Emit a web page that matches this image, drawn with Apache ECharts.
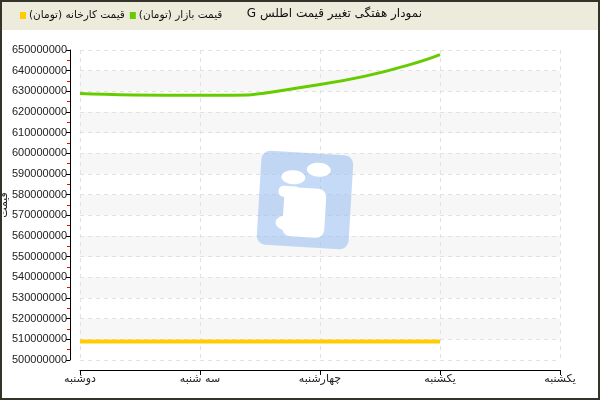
<!DOCTYPE html>
<html>
<head>
<meta charset="utf-8">
<script src="https://cdn.jsdelivr.net/npm/echarts@6/dist/echarts.min.js"></script>
<style>
html,body{margin:0;padding:0;background:#fff;}
#c{width:600px;height:400px;direction:rtl;}
</style>
</head>
<body>
<div id="c"></div>
<script>
const categories = ['دوشنبه', 'سه شنبه', 'چهارشنبه', 'یکشنبه', 'یکشنبه'];
const marketPrice = [629000000, 628100000, 633300000, 647800000];
const factoryPrice = [509000000, 509000000, 509000000, 509000000];
const seriesNames = ['قیمت بازار (تومان)', 'قیمت کارخانه (تومان)'];
const titleText = 'نمودار هفتگی تغییر قیمت اطلس G';
const yName = 'قیمت';

const chart = echarts.init(document.getElementById('c'), null, {renderer: 'canvas'});
const FF = 'DejaVu Sans';
chart.setOption({
  animation: false,
  backgroundColor: '#fff',
  title: {
    text: titleText, right: 178, top: 8, padding: 0,
    textStyle: {fontFamily: FF, fontSize: 12, fontWeight: 'normal', color: '#111'}
  },
  legend: {
    data: [seriesNames[1], seriesNames[0]],
    left: 20, top: 10, padding: 0, itemGap: 5,
    itemWidth: 6, itemHeight: 7, icon: 'rect',
    textStyle: {fontFamily: FF, fontSize: 10.5, color: '#111', padding: [0, 0, 0, -2]}
  },
  graphic: [
    {type: 'rect', z: -10, silent: true, shape: {x: 0, y: 0, width: 600, height: 30}, style: {fill: '#ecebdc'}},
    {type: 'rect', z: 100, silent: true, shape: {x: 1, y: 1, width: 598, height: 398}, style: {fill: 'none', stroke: '#33332a', lineWidth: 2}},
    {
      type: 'group', x: 305, y: 200, rotation: -0.06, z: 50, silent: true,
      children: [
        {type: 'rect', z: 50, shape: {x: -46, y: -47, width: 92, height: 94, r: 9}, style: {fill: 'rgba(150,188,240,0.55)'}},
        {type: 'ellipse', z: 51, shape: {cx: 12, cy: -31, rx: 12, ry: 7}, style: {fill: '#fff'}},
        {type: 'ellipse', z: 51, shape: {cx: -13, cy: -22, rx: 12, ry: 7}, style: {fill: '#fff'}},
        {type: 'rect', z: 51, shape: {x: -21, y: -12, width: 42, height: 49, r: 8}, style: {fill: '#fff'}},
        {type: 'rect', z: 51, shape: {x: -27, y: -13, width: 22, height: 11, r: 5}, style: {fill: '#fff'}},
        {type: 'ellipse', z: 51, shape: {cx: -15, cy: 24, rx: 13, ry: 8}, style: {fill: '#fff'}}
      ]
    }
  ],
  grid: {left: 80, right: 40, top: 50, bottom: 40, containLabel: false, outerBoundsMode: 'none'},
  xAxis: {
    type: 'category', data: categories, boundaryGap: false, offset: 10,
    axisLine: {lineStyle: {color: '#000', width: 1}},
    axisTick: {length: 5, lineStyle: {color: '#000'}},
    axisLabel: {fontFamily: FF, fontSize: 11, color: '#222', margin: 4},
    splitLine: {show: true, lineStyle: {color: '#e2e2e2', type: [4, 4]}}
  },
  yAxis: {
    type: 'value', min: 500000000, max: 650000000, interval: 10000000, offset: 10,
    name: yName, nameLocation: 'middle', nameGap: 60, nameMoveOverlap: false,
    nameTextStyle: {fontFamily: FF, fontSize: 11, color: '#222'},
    axisLine: {show: true, lineStyle: {color: '#000', width: 1}},
    axisTick: {show: true, length: 4, lineStyle: {color: '#000'}},
    minorTick: {show: true, splitNumber: 2, length: 3, lineStyle: {color: '#ff0000', width: 1}},
    axisLabel: {fontFamily: 'Liberation Sans', fontSize: 11, color: '#222', margin: 3, formatter: v => String(v)},
    splitLine: {show: true, lineStyle: {color: '#e2e2e2', type: [4, 4]}},
    splitArea: {show: true, areaStyle: {color: ['rgba(255,255,255,0)', '#f7f7f7']}}
  },
  series: [
    {
      name: seriesNames[0], type: 'line', data: marketPrice, smooth: 0.6,
      showSymbol: false, symbol: 'none', color: '#66cc00',
      lineStyle: {width: 3, color: '#66cc00'}, z: 10
    },
    {
      name: seriesNames[1], type: 'line', data: factoryPrice,
      showSymbol: false, symbol: 'none', color: '#ffcc00',
      lineStyle: {width: 4, color: '#ffcc00'}, z: 10
    }
  ]
});
</script>
</body>
</html>
